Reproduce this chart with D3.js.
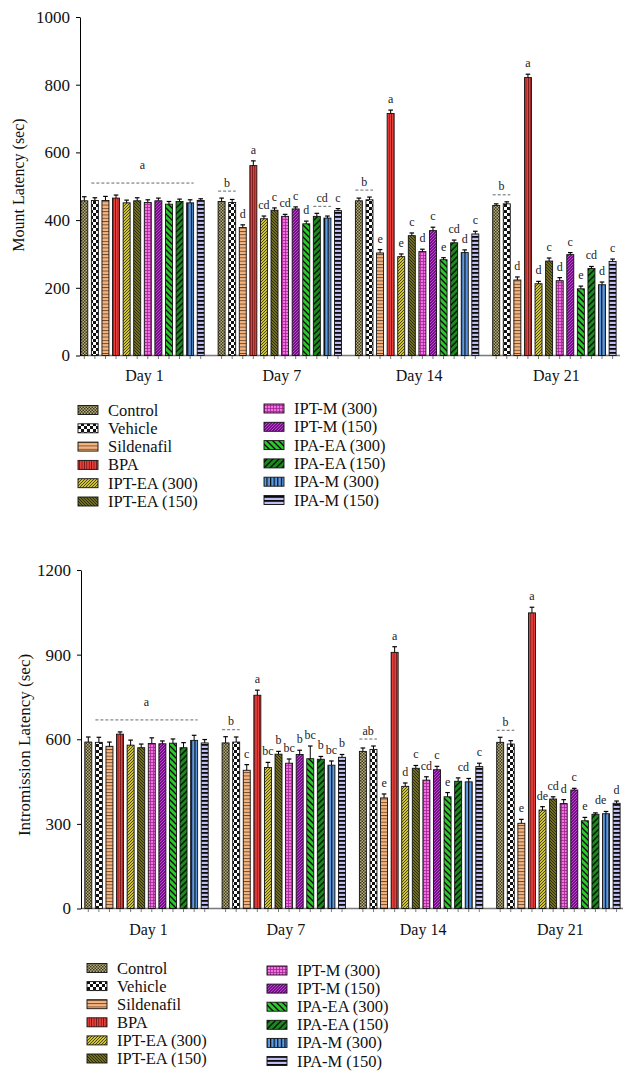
<!DOCTYPE html>
<html>
<head>
<meta charset="utf-8">
<script src="https://cdn.jsdelivr.net/npm/d3@7"></script>
<style>
  html, body { margin: 0; padding: 0; background: #fff; }
  svg { display: block; }
  text { font-family: "Liberation Serif", "DejaVu Serif", serif; }
</style>
</head>
<body>
<script>
// ---------------- DATA ----------------
const days = ["Day 1", "Day 7", "Day 14", "Day 21"];
const groups = ["Control", "Vehicle", "Sildenafil", "BPA", "IPT-EA (300)", "IPT-EA (150)",
                "IPT-M (300)", "IPT-M (150)", "IPA-EA (300)", "IPA-EA (150)", "IPA-M (300)", "IPA-M (150)"];

// Mount latency (sec)
const mountDay1  = [457, 458, 458, 465, 451, 457, 452, 457, 447, 455, 451, 458];
const mountDay7  = [455, 452, 378, 561, 404, 429, 411, 433, 389, 411, 406, 428];
const mountDay14 = [457, 460, 303, 715, 292, 354, 307, 369, 283, 333, 304, 359];
const mountDay21 = [443, 448, 223, 821, 212, 279, 221, 298, 197, 257, 209, 278];
const mountErrDay1  = [12, 8, 12, 9, 8, 9, 8, 8, 8, 7, 9, 5];
const mountErrDay7  = [10, 9, 8, 14, 8, 7, 6, 6, 8, 9, 6, 6];
const mountErrDay14 = [8, 8, 10, 10, 8, 8, 7, 10, 6, 8, 8, 8];
const mountErrDay21 = [5, 6, 9, 10, 7, 9, 9, 6, 8, 6, 8, 7];
const mountLetDay1  = ["", "", "", "", "", "", "", "", "", "", "", ""];
const mountLetDay7  = ["", "", "d", "a", "cd", "c", "cd", "c", "d", "", "", "c"];
const mountLetDay14 = ["", "", "e", "a", "e", "c", "d", "c", "e", "cd", "d", "c"];
const mountLetDay21 = ["", "", "d", "a", "d", "c", "d", "c", "e", "cd", "d", "c"];
// shared-letter spans: [day, firstBar, lastBar, letter, dashed]
const mountSpans = [["Day 1", 1, 10, "a", true], ["Day 7", 0, 1, "b", true], ["Day 7", 9, 10, "cd", true],
                    ["Day 14", 0, 1, "b", true], ["Day 21", 0, 1, "b", true]];
const mountTicks = [0, 200, 400, 600, 800, 1000];

// Intromission latency (sec)
const introDay1  = [590, 589, 575, 618, 579, 570, 585, 584, 586, 570, 596, 587];
const introDay7  = [587, 590, 490, 756, 500, 547, 515, 546, 531, 529, 508, 536];
const introDay14 = [557, 564, 392, 908, 433, 497, 455, 492, 396, 451, 449, 503];
const introDay21 = [589, 583, 302, 1048, 349, 388, 372, 420, 311, 334, 336, 373];
const introErrDay1  = [18, 18, 15, 8, 18, 13, 20, 10, 15, 18, 18, 12];
const introErrDay7  = [22, 18, 20, 18, 18, 10, 15, 15, 45, 10, 15, 10];
const introErrDay14 = [12, 12, 14, 20, 12, 10, 12, 12, 15, 12, 12, 12];
const introErrDay21 = [18, 12, 14, 20, 12, 8, 14, 6, 12, 5, 8, 8];
const introLetDay1  = ["", "", "", "", "", "", "", "", "", "", "", ""];
const introLetDay7  = ["", "", "c", "a", "bc", "b", "bc", "b", "bc", "b", "bc", "b"];
const introLetDay14 = ["", "", "e", "a", "d", "c", "cd", "c", "e", "", "", "c"];
const introLetDay21 = ["", "", "e", "a", "de", "cd", "d", "c", "e", "", "", "d"];
const introSpans = [["Day 1", 1, 10, "a", true], ["Day 7", 0, 1, "b", true], ["Day 14", 0, 1, "ab", true],
                    ["Day 14", 9, 10, "cd", false], ["Day 21", 0, 1, "b", true], ["Day 21", 9, 10, "de", false]];
const introTicks = [0, 300, 600, 900, 1200];

// ---------------- SVG & PATTERNS ----------------
const svg = d3.select("body").append("svg").attr("width", 635).attr("height", 1082);
const defs = svg.append("defs");

function pat(id, w, h, bg, draw) {
  const p = defs.append("pattern").attr("id", id).attr("patternUnits", "userSpaceOnUse")
    .attr("width", w).attr("height", h);
  p.append("rect").attr("width", w).attr("height", h).attr("fill", bg);
  draw(p);
}
// Control: fine khaki check
pat("p0", 3, 3, "#b7ae7c", p => {
  p.append("rect").attr("x", 0).attr("y", 0).attr("width", 1.5).attr("height", 1.5).attr("fill", "#3d3a22");
  p.append("rect").attr("x", 1.5).attr("y", 1.5).attr("width", 1.5).attr("height", 1.5).attr("fill", "#3d3a22");
});
// Vehicle: black/white checkerboard
pat("p1", 6, 6, "#ffffff", p => {
  p.append("rect").attr("x", 0).attr("y", 0).attr("width", 3).attr("height", 3).attr("fill", "#111");
  p.append("rect").attr("x", 3).attr("y", 3).attr("width", 3).attr("height", 3).attr("fill", "#111");
});
// Sildenafil: peach with horizontal lines
pat("p2", 4, 3.3, "#f6b47e", p => {
  p.append("rect").attr("x", 0).attr("y", 0).attr("width", 4).attr("height", 0.9).attr("fill", "#6b4a30");
});
// BPA: red with vertical lines
pat("p3", 2.4, 4, "#e8413d", p => {
  p.append("rect").attr("x", 0).attr("y", 0).attr("width", 0.7).attr("height", 4).attr("fill", "#5a1010");
});
// IPT-EA (300): yellow with "/" lines
pat("p4", 3, 3, "#cfc43a", p => {
  p.append("path").attr("d", "M0,3 L3,0 M-1,1 L1,-1 M2,4 L4,2").attr("stroke", "#3f3a10").attr("stroke-width", 0.9);
});
// IPT-EA (150): olive with "\" lines
pat("p5", 3, 3, "#8c8a30", p => {
  p.append("path").attr("d", "M0,0 L3,3 M2,-1 L4,1 M-1,2 L1,4").attr("stroke", "#2a290a").attr("stroke-width", 1.1);
});
// IPT-M (300): pink grid
pat("p6", 3, 3, "#a32494", p => {
  p.append("rect").attr("x", 0.8).attr("y", 0.8).attr("width", 2.2).attr("height", 2.2).attr("fill", "#f272e2");
});
// IPT-M (150): purple with light "/" lines
pat("p7", 3, 3, "#780e8c", p => {
  p.append("path").attr("d", "M0,3 L3,0 M-1,1 L1,-1 M2,4 L4,2").attr("stroke", "#d86ee6").attr("stroke-width", 0.65);
});
// IPA-EA (300): green with black "\" lines
pat("p8", 6, 6, "#2fc52f", p => {
  p.append("path").attr("d", "M0,0 L6,6 M5,-1 L7,1 M-1,5 L1,7").attr("stroke", "#0a0a0a").attr("stroke-width", 1.3);
});
// IPA-EA (150): dark green with black "/" lines
pat("p9", 6, 6, "#198a1c", p => {
  p.append("path").attr("d", "M0,6 L6,0 M-1,1 L1,-1 M5,7 L7,5").attr("stroke", "#0a0a0a").attr("stroke-width", 1.3);
});
// IPA-M (300): blue with black vertical lines
pat("p10", 3.6, 4, "#5b9be6", p => {
  p.append("rect").attr("x", 0).attr("y", 0).attr("width", 1.2).attr("height", 4).attr("fill", "#0a0a0a");
});
// IPA-M (150): lavender with thick black horizontal lines
pat("p11", 4, 4, "#bdbdf2", p => {
  p.append("rect").attr("x", 0).attr("y", 0).attr("width", 4).attr("height", 1.8).attr("fill", "#0a0a0a");
});
const fillOf = i => `url(#p${i})`;

// ---------------- CHART ----------------
function drawChart(cfg) {
  const g = svg.append("g");
  const y = d3.scaleLinear().domain([0, cfg.max]).range([cfg.yBottom, cfg.yTop]);
  const xDay = d3.scaleBand().domain(days).range([cfg.xStart, cfg.xStart + 4 * 137.3]).padding(0);
  const xBar = d3.scaleBand().domain(groups).range([0, 127]).paddingInner(0.34).paddingOuter(0.17);

  const rows = [];
  days.forEach((d, di) => {
    groups.forEach((gname, gi) => {
      rows.push({ day: d, gi, g: gname, v: cfg.means[di][gi], e: cfg.errs[di][gi], l: cfg.letters[di][gi] });
    });
  });
  const cx = r => xDay(r.day) + xBar(r.g) + xBar.bandwidth() / 2;

  // x axis line and ticks
  g.append("line").attr("x1", cfg.axisX).attr("x2", cfg.axisEnd)
    .attr("y1", y(0)).attr("y2", y(0)).attr("stroke", "#7a7a7a").attr("stroke-width", 1.5);
  g.selectAll(".xt").data(rows).join("line")
    .attr("x1", cx).attr("x2", cx).attr("y1", y(0)).attr("y2", y(0) + 3.5)
    .attr("stroke", "#7a7a7a").attr("stroke-width", 1);

  // bars
  g.selectAll(".bar").data(rows).join("rect")
    .attr("x", r => xDay(r.day) + xBar(r.g))
    .attr("width", xBar.bandwidth())
    .attr("y", r => y(r.v))
    .attr("height", r => y(0) - y(r.v))
    .attr("fill", r => fillOf(r.gi))
    .attr("stroke", "#111").attr("stroke-width", 0.9);

  // error bars
  g.selectAll(".eb").data(rows).join("line")
    .attr("x1", cx).attr("x2", cx).attr("y1", r => y(r.v)).attr("y2", r => y(r.v + r.e))
    .attr("stroke", "#000").attr("stroke-width", 1);
  g.selectAll(".ec").data(rows).join("line")
    .attr("x1", r => cx(r) - 2.3).attr("x2", r => cx(r) + 2.3)
    .attr("y1", r => y(r.v + r.e)).attr("y2", r => y(r.v + r.e))
    .attr("stroke", "#000").attr("stroke-width", 1.2);

  // letters
  g.selectAll(".lt").data(rows.filter(r => r.l)).join("text")
    .attr("x", cx).attr("y", r => y(r.v + r.e) - 7)
    .attr("text-anchor", "middle").attr("font-size", 12).attr("fill", "#222")
    .text(r => r.l);

  // spans
  cfg.spans.forEach(([d, a, b, letter, dashed]) => {
    const di = days.indexOf(d);
    let topPx = Infinity;
    for (let i = a; i <= b; i++) topPx = Math.min(topPx, y(cfg.means[di][i] + cfg.errs[di][i]));
    const x1 = xDay(d) + xBar(groups[a]);
    const x2 = xDay(d) + xBar(groups[b]) + xBar.bandwidth();
    if (dashed) {
      const long = (b - a) > 2;
      const ly = topPx - (long ? 12 : 7);
      g.append("line").attr("x1", x1).attr("x2", x2).attr("y1", ly).attr("y2", ly)
        .attr("stroke", "#555").attr("stroke-width", 0.9).attr("stroke-dasharray", "3,2");
      g.append("text").attr("x", (x1 + x2) / 2).attr("y", ly - (long ? 14 : 4.5))
        .attr("text-anchor", "middle").attr("font-size", 12).attr("fill", "#222").text(letter);
    } else {
      g.append("text").attr("x", (x1 + x2) / 2).attr("y", topPx - 7)
        .attr("text-anchor", "middle").attr("font-size", 12).attr("fill", "#222").text(letter);
    }
  });

  // y axis
  const ya = g.append("g").attr("transform", `translate(${cfg.axisX},0)`)
    .call(d3.axisLeft(y).tickValues(cfg.ticks).tickSize(4).tickSizeOuter(0).tickPadding(6).tickFormat(d3.format("d")));
  ya.select(".domain").attr("stroke", "#000").attr("stroke-width", 1);
  ya.selectAll(".tick line").attr("stroke", "#000");
  ya.selectAll(".tick text").attr("font-family", "Liberation Serif, serif").attr("font-size", 17).attr("fill", "#111");

  // day labels
  g.selectAll(".dl").data(days).join("text")
    .attr("x", d => xDay(d) + 63.5 + 2).attr("y", cfg.dayY)
    .attr("text-anchor", "middle").attr("font-size", 16).attr("fill", "#111").text(d => d);

  // y title
  g.append("text").attr("transform", `translate(${cfg.titleX},${cfg.titleY}) rotate(-90)`)
    .attr("text-anchor", "middle").attr("dominant-baseline", "central")
    .attr("font-size", cfg.titleSize).attr("fill", "#111").text(cfg.title);

  // legend
  const lg = g.append("g");
  const leg = groups.map((name, i) => ({ name, i, col: i < 6 ? 0 : 1, row: i % 6 }));
  const lx = [cfg.legX1, cfg.legX2];
  const ly0 = [cfg.legY1, cfg.legY2];
  lg.selectAll("rect").data(leg).join("rect")
    .attr("x", d => lx[d.col]).attr("y", d => ly0[d.col] + d.row * cfg.legStep - 4.5)
    .attr("width", 20).attr("height", 9)
    .attr("fill", d => fillOf(d.i)).attr("stroke", "#111").attr("stroke-width", 0.9);
  lg.selectAll("text").data(leg).join("text")
    .attr("x", d => lx[d.col] + 30).attr("y", d => ly0[d.col] + d.row * cfg.legStep + 5.5)
    .attr("font-size", 16.5).attr("fill", "#111").text(d => d.name);
}

drawChart({
  max: 1000, yBottom: 355.5, yTop: 17, xStart: 79, axisX: 80, axisEnd: 620,
  means: [mountDay1, mountDay7, mountDay14, mountDay21],
  errs: [mountErrDay1, mountErrDay7, mountErrDay14, mountErrDay21],
  letters: [mountLetDay1, mountLetDay7, mountLetDay14, mountLetDay21],
  spans: mountSpans, ticks: mountTicks, dayY: 381,
  title: "Mount Latency (sec)", titleX: 18, titleY: 185, titleSize: 16,
  legX1: 78, legX2: 264, legY1: 410, legY2: 408.5, legStep: 18.3
});

drawChart({
  max: 1200, yBottom: 908.5, yTop: 570, xStart: 83, axisX: 81, axisEnd: 623,
  means: [introDay1, introDay7, introDay14, introDay21],
  errs: [introErrDay1, introErrDay7, introErrDay14, introErrDay21],
  letters: [introLetDay1, introLetDay7, introLetDay14, introLetDay21],
  spans: introSpans, ticks: introTicks, dayY: 935,
  title: "Intromission Latency (sec)", titleX: 24, titleY: 745, titleSize: 17,
  legX1: 87, legX2: 267, legY1: 968, legY2: 970.5, legStep: 18.1
});
</script>
</body>
</html>
